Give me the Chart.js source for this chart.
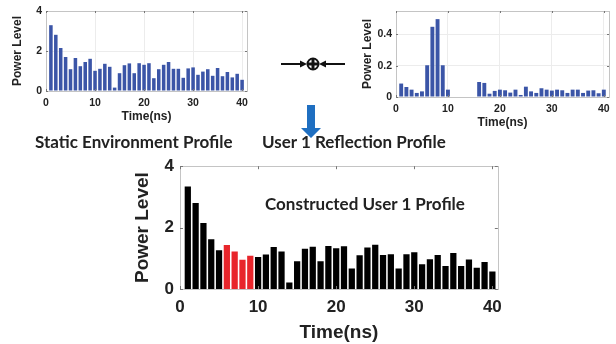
<!DOCTYPE html>
<html>
<head>
<meta charset="utf-8">
<script src="https://cdn.jsdelivr.net/npm/chart.js@4.4.0/dist/chart.umd.min.js"></script>
<style>
  body { margin: 0; background: #fff; }
  #page { position: relative; width: 616px; height: 344px; overflow: hidden; }
  .box { position: absolute; }
  .cap { position: absolute; font-family: Lato, "Open Sans", sans-serif; font-weight: bold; font-size: 17px; color: #222; white-space: nowrap; line-height: 1; }
</style>
</head>
<body>
<div id="page">
  <div class="box" style="left:0;top:0;width:260px;height:128px"><canvas id="staticChart"></canvas></div>
  <div class="box" style="left:350px;top:0;width:266px;height:135px"><canvas id="reflChart"></canvas></div>
  <div class="box" style="left:120px;top:150px;width:390px;height:194px"><canvas id="userChart"></canvas></div>

  <div class="cap" style="left:35px;top:133px">Static Environment Profile</div>
  <div class="cap" style="left:262px;top:133px">User 1 Reflection Profile</div>
  <div class="cap" style="left:265px;top:195px">Constructed User 1 Profile</div>

  <!-- combine symbol and down arrow -->
  <svg class="box" style="left:0;top:0" width="616" height="344">
    <line x1="281" y1="64" x2="302" y2="64" stroke="#111" stroke-width="2"/>
    <polygon points="307,64 300,60.5 300,67.5" fill="#111"/>
    <line x1="345" y1="64" x2="324" y2="64" stroke="#111" stroke-width="2"/>
    <polygon points="319,64 326,60.5 326,67.5" fill="#111"/>
    <circle cx="313" cy="64" r="5.5" fill="#fff" stroke="#111" stroke-width="2"/>
    <line x1="307.5" y1="64" x2="318.5" y2="64" stroke="#111" stroke-width="3"/>
    <line x1="313" y1="58.5" x2="313" y2="69.5" stroke="#111" stroke-width="3"/>
    <polygon points="307,105 315,105 315,128 321,128 311,138 301,128 307,128" fill="#1f6fc1"/>
  </svg>
</div>

<script>
// time bins 1..40 ns
var timeBins = [];
for (var i = 1; i <= 40; i++) timeBins.push(i);

var staticPower = [3.29, 2.81, 2.15, 1.70, 1.09, 1.65, 1.24, 1.45, 1.61, 1.01,
                   1.11, 1.36, 1.21, 0.17, 0.89, 1.29, 1.38, 0.89, 1.39, 1.31,
                   1.39, 0.64, 1.09, 1.31, 1.45, 1.11, 1.11, 0.66, 1.13, 1.18,
                   0.81, 0.97, 1.09, 0.76, 1.15, 0.74, 0.95, 0.68, 0.86, 0.56];

var reflPower = [0.086, 0.064, 0.047, 0.026, 0.036, 0.203, 0.449, 0.498, 0.203, 0.047,
                 0, 0, 0, 0, 0, 0.096, 0.090, 0.021, 0.039, 0.047,
                 0.043, 0.028, 0.047, 0.013, 0.066, 0.036, 0.026, 0.056, 0.047, 0.041,
                 0.047, 0.043, 0.026, 0.047, 0.047, 0.026, 0.041, 0.043, 0.024, 0.047];

var userPower = [3.34, 2.80, 2.15, 1.62, 1.26, 1.43, 1.22, 0.95, 1.08, 1.04,
                 1.12, 1.37, 1.22, 0.21, 0.90, 1.31, 1.38, 0.90, 1.40, 1.33,
                 1.39, 0.67, 1.10, 1.35, 1.44, 1.11, 1.13, 0.67, 1.13, 1.20,
                 0.81, 0.97, 1.11, 0.75, 1.17, 0.75, 0.96, 0.69, 0.88, 0.57];

// bins where the reflection was taken out (drawn red)
var highlightBins = [6, 7, 8, 9];

var xTicks = [0, 10, 20, 30, 40];

function toPoints(values) {
	return values.map(function(v, idx) { return { x: timeBins[idx], y: v }; });
}

// draws the matlab-ish axes box with inward tick marks
var boxPlugin = {
	id: 'axesBox',
	afterDraw: function(chart, args, opts) {
		var ctx = chart.ctx, a = chart.chartArea;
		var xs = chart.scales.x, ys = chart.scales.y;
		ctx.save();
		ctx.strokeStyle = opts.color || '#c4c4c4';
		ctx.lineWidth = 1;
		ctx.strokeRect(Math.round(a.left) + 0.5, Math.round(a.top) + 0.5,
		               Math.round(a.right - a.left), Math.round(a.bottom - a.top));
		var tl = opts.tickLen || 3;
		ctx.strokeStyle = '#777';
		xs.ticks.forEach(function(t) {
			var px = Math.round(xs.getPixelForValue(t.value)) + 0.5;
			ctx.beginPath();
			ctx.moveTo(px, a.bottom); ctx.lineTo(px, a.bottom - tl);
			ctx.moveTo(px, a.top); ctx.lineTo(px, a.top + tl);
			ctx.stroke();
		});
		ys.ticks.forEach(function(t) {
			var py = Math.round(ys.getPixelForValue(t.value)) + 0.5;
			ctx.beginPath();
			ctx.moveTo(a.left, py); ctx.lineTo(a.left + tl, py);
			ctx.moveTo(a.right, py); ctx.lineTo(a.right - tl, py);
			ctx.stroke();
		});
		ctx.restore();
	}
};

function makeChart(id, cfg) {
	var tickFont = { family: 'Liberation Sans, Arial, sans-serif', weight: 'bold', size: cfg.tickSize };
	var titleFont = { family: 'Liberation Sans, Arial, sans-serif', weight: 'bold', size: cfg.titleSize, lineHeight: 1 };

	return new Chart(document.getElementById(id), {
		type: 'bar',
		data: {
			datasets: [{
				data: toPoints(cfg.values),
				backgroundColor: cfg.colors,
				borderWidth: 0,
				categoryPercentage: 1,
				barPercentage: cfg.barPct
			}]
		},
		options: {
			responsive: true,
			maintainAspectRatio: false,
			animation: false,
			layout: { padding: cfg.pad },
			plugins: { legend: { display: false }, tooltip: { enabled: false }, axesBox: { tickLen: cfg.tickLen } },
			scales: {
				x: {
					type: 'linear',
					offset: false,
					min: 0,
					max: cfg.xMax,
					afterBuildTicks: function(scale) {
						scale.ticks = xTicks.map(function(v) { return { value: v }; });
					},
					afterFit: function(scale) { scale.height = cfg.xHeight; },
					grid: { display: cfg.grid, color: '#ececec', drawTicks: false, offset: false },
					border: { display: false },
					ticks: { font: tickFont, color: '#222', padding: cfg.xTickPad, maxRotation: 0 },
					title: { display: true, text: 'Time(ns)', font: titleFont, color: '#222', padding: { top: 0, bottom: cfg.xTitlePad } }
				},
				y: {
					min: 0,
					max: cfg.yMax,
					afterBuildTicks: function(scale) {
						scale.ticks = cfg.yTicks.map(function(v) { return { value: v }; });
					},
					afterFit: function(scale) { scale.width = cfg.yWidth; },
					grid: { display: cfg.grid, color: '#ececec', drawTicks: false },
					border: { display: false },
					ticks: {
						font: tickFont, color: '#222', padding: cfg.yTickPad,
						callback: function(v) { return String(v); }
					},
					title: { display: true, text: 'Power Level', font: titleFont, color: '#222', padding: { top: cfg.yTitlePad, bottom: 0 } }
				}
			}
		},
		plugins: [boxPlugin]
	});
}

var blue = '#3b55a7';

makeChart('staticChart', {
	values: staticPower, colors: blue, barPct: 0.72,
	xMax: 41, yMax: 4, yTicks: [0, 2, 4], grid: true,
	pad: { top: 11, right: 13, left: 0, bottom: 0 },
	xHeight: 37, yWidth: 46, tickSize: 10.5, titleSize: 12,
	xTickPad: 6, xTitlePad: 5, yTickPad: 4, yTitlePad: 12, tickLen: 2
});

makeChart('reflChart', {
	values: reflPower, colors: blue, barPct: 0.75,
	xMax: 41, yMax: 0.55, yTicks: [0, 0.2, 0.4], grid: true,
	pad: { top: 11, right: 7, left: 0, bottom: 0 },
	xHeight: 38, yWidth: 46, tickSize: 10.5, titleSize: 12,
	xTickPad: 6, xTitlePad: 6, yTickPad: 4, yTitlePad: 12, tickLen: 2
});

// constructed profile: black bars, red where the reflection bins are
var userColors = userPower.map(function(v, idx) {
	return highlightBins.indexOf(timeBins[idx]) >= 0 ? '#e8252b' : '#000';
});

makeChart('userChart', {
	values: userPower, colors: userColors, barPct: 0.8,
	xMax: 40.7, yMax: 4, yTicks: [0, 2, 4], grid: false,
	pad: { top: 12, right: 10, left: 0, bottom: 0 },
	xHeight: 55, yWidth: 60, tickSize: 17, titleSize: 19,
	xTickPad: 8, xTitlePad: 2, yTickPad: 6, yTitlePad: 13, tickLen: 3
});
</script>
</body>
</html>
